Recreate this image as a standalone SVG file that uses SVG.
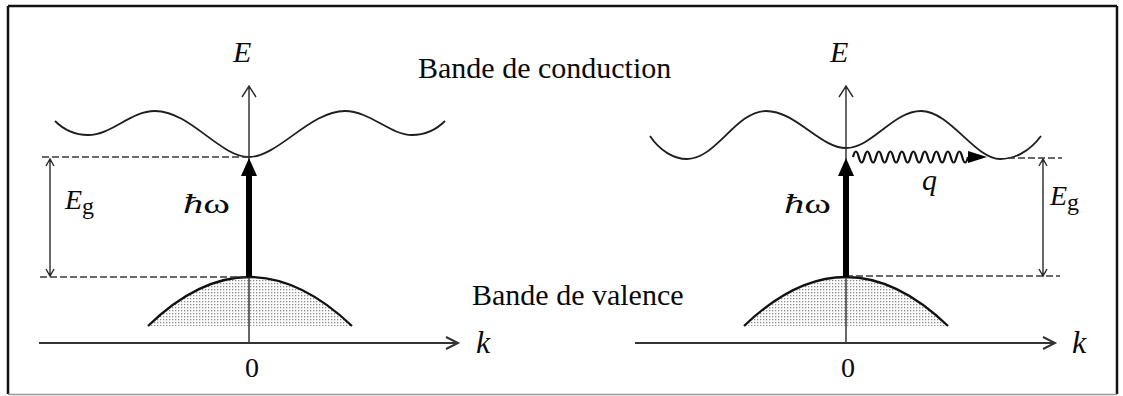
<svg xmlns="http://www.w3.org/2000/svg" width="1123" height="396" viewBox="0 0 1123 396">
<defs>
<pattern id="dots" width="3" height="3" patternUnits="userSpaceOnUse"><rect width="3" height="3" fill="#fdfdfd"/><rect x="1" y="1" width="1.3" height="1.3" fill="#8c8c8c"/></pattern>
</defs>
<style>
text{font-family:"Liberation Serif","DejaVu Serif",serif;fill:#0a0a0a}
.it{font-style:italic}
.band{fill:none;stroke:#1e1e1e;stroke-width:1.8}
.val{fill:url(#dots);stroke:none}
.valedge{fill:none;stroke:#111;stroke-width:2.2}
.axis{fill:none;stroke:#2a2a2a;stroke-width:1.4}
.kaxis{fill:none;stroke:#333;stroke-width:2}
.dash{fill:none;stroke:#3a3a3a;stroke-width:1.5;stroke-dasharray:7 3}
.thin{fill:none;stroke:#2a2a2a;stroke-width:1.4}
.thick{fill:none;stroke:#000;stroke-width:6}
.head{fill:#000;stroke:none}
</style>
<rect width="1123" height="396" fill="#fff"/>
<g id="frame">
<path d="M8,6 H1117 M8,6 V394 M1117,6 V394" fill="none" stroke="#111" stroke-width="2.5"/>
<path d="M8,394.5 H1117" fill="none" stroke="#999" stroke-width="1.5"/>
</g>
<g id="labels">
<text id="label-conduction" x="418" y="78" font-size="30" font-family="Liberation Serif, serif">Bande de conduction</text>
<text id="label-valence" x="472" y="305" font-size="30" font-family="Liberation Serif, serif">Bande de valence</text>
</g>
<g id="left-panel">
<g id="left-valence-band"><path class="val" d="M148,326 Q249,228 352,326 Z"/><path class="valedge" d="M148,326 Q249,228 352,326"/></g>
<g id="left-conduction-band"><path class="band" d="M55,121 C65,131 76,135 88,135 C112,135 130,111 155,111 C190,111 220,157 249,157 C278,157 310,111 345,111 C370,111 390,135 412,135 C424,135 435,131 445,121"/></g>
<g id="left-E-axis"><path class="axis" d="M249,343 V86 M242,97 L249,86 L256,97"/><text class="it" x="233" y="62" font-size="30" font-family="Liberation Serif, serif">E</text></g>
<g id="left-k-axis"><path class="kaxis" d="M39,343 H458 M446,337 L458,343 L446,349"/><text class="it" x="476" y="353" font-size="32" font-family="Liberation Serif, serif">k</text><text x="252" y="377" font-size="28" text-anchor="middle" font-family="Liberation Serif, serif">0</text></g>
<g id="left-Eg"><text x="65" y="209" font-size="28" font-family="Liberation Serif, serif"><tspan font-style="italic">E</tspan><tspan font-size="24" dy="5">g</tspan></text></g>
<g id="left-hw"><text x="183" y="213" font-size="28" font-family="Liberation Serif, serif" textLength="47" lengthAdjust="spacingAndGlyphs"><tspan font-style="italic">ħ</tspan>ω</text></g>
</g>
<g id="right-panel">
<g id="right-valence-band"><path class="val" d="M744,326 Q846,228 948,326 Z"/><path class="valedge" d="M744,326 Q846,228 948,326"/></g>
<g id="right-conduction-band"><path class="band" d="M650,136 C660,151 674,159 687,159 C716,159 736,111 766,111 C796,111 820,148 846,148 C872,148 893,111 921,111 C950,111 975,159 1000,159 C1015,159 1030,151 1041,136"/></g>
<g id="right-E-axis"><path class="axis" d="M846,343 V86 M839,97 L846,86 L853,97"/><text class="it" x="830" y="62" font-size="30" font-family="Liberation Serif, serif">E</text></g>
<g id="right-k-axis"><path class="kaxis" d="M635,343 H1055 M1043,337 L1055,343 L1043,349"/><text class="it" x="1072" y="353" font-size="32" font-family="Liberation Serif, serif">k</text><text x="848" y="377" font-size="28" text-anchor="middle" font-family="Liberation Serif, serif">0</text></g>
<g id="right-Eg"><text x="1050" y="205" font-size="28" font-family="Liberation Serif, serif"><tspan font-style="italic">E</tspan><tspan font-size="24" dy="5">g</tspan></text></g>
<g id="right-hw"><text x="784" y="213" font-size="28" font-family="Liberation Serif, serif" textLength="47" lengthAdjust="spacingAndGlyphs"><tspan font-style="italic">ħ</tspan>ω</text></g>
<g id="right-q"><text class="it" x="922" y="190" font-size="30" font-family="Liberation Serif, serif">q</text></g>
</g>
<g id="connectors">
<path class="dash" d="M42,157 H249"/>
<path class="dash" d="M40,277 H249"/>
<path class="dash" d="M846,276 H1060"/>
<path class="dash" d="M1008,158 H1062"/>
<path class="thin" d="M50,159 V276 M46,166 L50,159 L54,166 M46,269 L50,276 L54,269"/>
<path class="thin" d="M1043,159 V276 M1039,166 L1043,159 L1047,166 M1039,269 L1043,276 L1047,269"/>
<path class="thick" d="M249,277 V174"/>
<polygon class="head" points="241,176 249,158 257,176"/>
<path class="thick" d="M846,277 V174"/>
<polygon class="head" points="838,176 846,158 854,176"/>
<path fill="none" stroke="#111" stroke-width="2.2" d="M853,157 q2.875,-11 5.75,0 t5.75,0 t5.75,0 t5.75,0 t5.75,0 t5.75,0 t5.75,0 t5.75,0 t5.75,0 t5.75,0 t5.75,0 t5.75,0 t5.75,0 t5.75,0 t5.75,0 t5.75,0 t5.75,0 t5.75,0 t5.75,0 t5.75,0"/>
<polygon class="head" points="968,151 987,157 968,163"/>
</g>
</svg>
